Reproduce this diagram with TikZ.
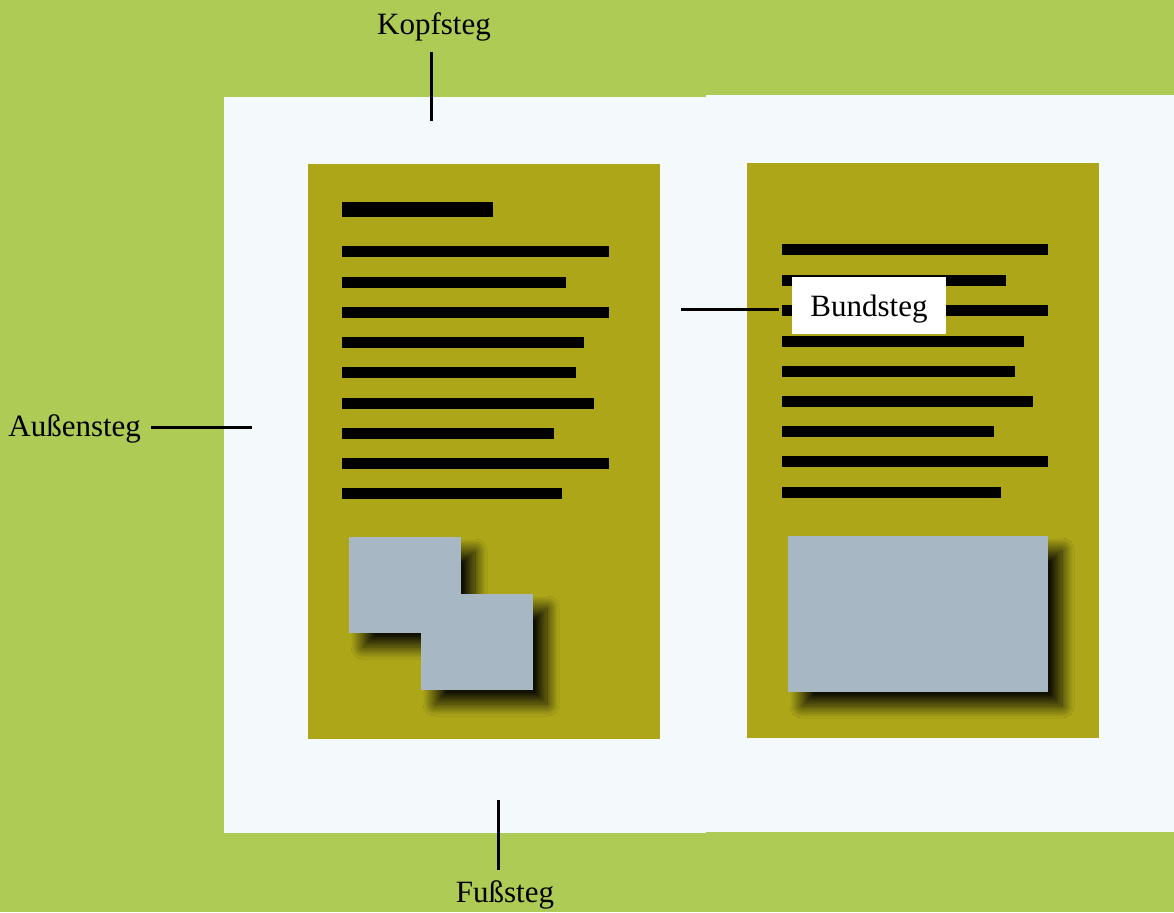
\documentclass[tikz,border=0pt]{standalone}
\usepackage{fontspec}
\setmainfont{Liberation Serif}
\usetikzlibrary{shadows.blur, positioning}

\definecolor{wiese}{HTML}{ADCB55}
\definecolor{papier}{HTML}{F4F9FC}
\definecolor{satz}{HTML}{ACA618}
\definecolor{bild}{HTML}{A8B7C4}

\tikzset{
  zeile/.style = {fill=black},
  foto/.style = {fill=bild, blur shadow={shadow xshift=7pt, shadow yshift=-7pt,
      shadow blur radius=6pt, shadow blur steps=24, shadow opacity=90}},
  steg/.style = {line width=1.5pt},
  beschr/.style = {font=\fontsize{15.5}{18}\selectfont, inner sep=0pt}
}

\begin{document}
\begin{tikzpicture}[x=0.5pt, y=-0.5pt]
    \fill [wiese] (0,0) rectangle (1174,912);
    \useasboundingbox (0,0) rectangle (1174,912);

    % Doppelseite
    \fill [papier] (224,97) rectangle (706,833);
    \fill [papier] (706,95) rectangle (1174,832);

    % Satzspiegel
    \fill [satz] (308,164) rectangle (660,739);
    \fill [satz] (747,163) rectangle (1099,738);

    % Textzeilen
    \fill [zeile] (342,202) rectangle (493,217);
    \foreach \y/\e in {251/609, 282/566, 312/609, 342/584, 372/576, 403/594, 433/554, 463/609, 493/562}
        \fill [zeile] (342,\y-5.5) rectangle (\e,\y+5.5);
    \foreach \y/\e in {249/1048, 280/1006, 310/1048, 341/1024, 371/1015, 401/1033, 431/994, 461/1048, 492/1001}
        \fill [zeile] (782,\y-5.5) rectangle (\e,\y+5.5);

    % Bilder
    \fill [foto] (349,537) rectangle (461,633);
    \fill [foto] (421,594) rectangle (533,690);
    \fill [foto] (788,536) rectangle (1048,692);

    % Beschriftungen
    \node (kopf) [beschr] at (434,27) {Kopfsteg};
    \node (fuss) [beschr] at (505,895) {Fußsteg};
    \node (aussen) [beschr, anchor=west] at (8,429) {Außensteg};
    \node (bund) [beschr, fill=white, text depth=0pt, minimum width=77pt, minimum height=28.5pt] at (869,305.5) {Bundsteg};

    \coordinate (kopfE) at (431,121);
    \coordinate (fussE) at (498,800);
    \coordinate (aussenE) at (252,427);
    \coordinate (bundE) at (681,309);

    \draw [steg] (431,52) -- (kopfE);
    \draw [steg] (498,870) -- (fussE);
    \draw [steg, shorten <=5pt] (aussen.east |- aussenE) -- (aussenE);
    \draw [steg, shorten >=6.5pt] (bundE) -- (bund.west |- bundE);
\end{tikzpicture}
\end{document}
